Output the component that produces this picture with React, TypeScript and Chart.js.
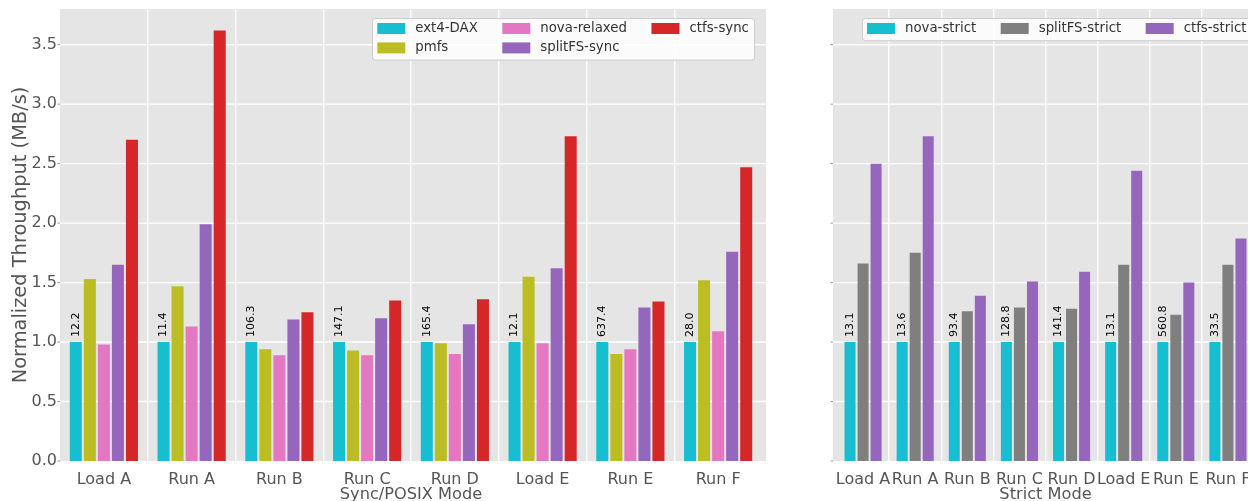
import { useEffect, useRef } from 'react';
import { Chart, registerables } from 'chart.js';

Chart.register(...registerables);

const FONT = "'DejaVu Sans', 'Liberation Sans', sans-serif";
Chart.defaults.font.family = FONT;

// YCSB workloads on the x axis of both panels
const CATEGORIES = ['Load A', 'Run A', 'Run B', 'Run C', 'Run D', 'Load E', 'Run E', 'Run F'];

// Sync/POSIX mode: ext4-DAX is the baseline, its absolute throughput (MB/s) is printed on its bar
const EXT4_DAX_MBPS = [12.2, 11.4, 106.3, 147.1, 165.4, 12.1, 637.4, 28.0];
const PMFS = [1.53, 1.47, 0.94, 0.93, 0.99, 1.55, 0.90, 1.52];
const NOVA_RELAXED = [0.98, 1.13, 0.89, 0.89, 0.90, 0.99, 0.94, 1.09];
const SPLITFS_SYNC = [1.65, 1.99, 1.19, 1.20, 1.15, 1.62, 1.29, 1.76];
const CTFS_SYNC = [2.70, 3.62, 1.25, 1.35, 1.36, 2.73, 1.34, 2.47];

// Strict mode: nova-strict is the baseline
const NOVA_STRICT_MBPS = [13.1, 13.6, 93.4, 128.8, 141.4, 13.1, 560.8, 33.5];
const SPLITFS_STRICT = [1.66, 1.75, 1.26, 1.29, 1.28, 1.65, 1.23, 1.65];
const CTFS_STRICT = [2.50, 2.73, 1.39, 1.51, 1.59, 2.44, 1.50, 1.87];

const Y_TICKS = [0, 0.5, 1.0, 1.5, 2.0, 2.5, 3.0, 3.5];
const Y_MAX = 3.8;

const C = {
  cyan: '#17becf',
  olive: '#bcbd22',
  pink: '#e377c2',
  purple: '#9467bd',
  red: '#d62728',
  gray: '#7f7f7f',
};

const normalize = (raw: number[]) => raw.map((v, i) => v / raw[i]);

type LegendItem = { label: string; color: string };

// Fills the panel background, draws horizontal grid and y tick marks
function panelBackground(extLeft: number, extRight: number) {
  return {
    id: 'panelBackground',
    beforeDraw(chart: any) {
      const { ctx, chartArea: a } = chart;
      const y = chart.scales.y;
      const l = a.left - extLeft;
      const r = a.right + extRight;
      ctx.save();
      ctx.fillStyle = '#E5E5E5';
      ctx.fillRect(l, a.top, r - l, a.bottom - a.top);
      ctx.strokeStyle = '#ffffff';
      ctx.lineWidth = 1.4;
      for (const v of Y_TICKS) {
        const py = y.getPixelForValue(v);
        if (py >= a.bottom - 0.5 || py <= a.top + 0.5) continue;
        ctx.beginPath();
        ctx.moveTo(l, py);
        ctx.lineTo(r, py);
        ctx.stroke();
      }
      ctx.strokeStyle = '#999999';
      ctx.lineWidth = 1;
      for (const v of Y_TICKS) {
        const py = y.getPixelForValue(v);
        ctx.beginPath();
        ctx.moveTo(l - 2.5, py);
        ctx.lineTo(l, py);
        ctx.stroke();
      }
      ctx.restore();
    },
  };
}

// Vertical absolute-throughput labels above the baseline bars
function baselineLabels(values: number[]) {
  return {
    id: 'baselineLabels',
    afterDatasetsDraw(chart: any) {
      const { ctx } = chart;
      const meta = chart.getDatasetMeta(0);
      ctx.save();
      ctx.font = `11px ${FONT}`;
      ctx.fillStyle = '#000000';
      ctx.textAlign = 'left';
      ctx.textBaseline = 'middle';
      meta.data.forEach((bar: any, i: number) => {
        ctx.save();
        ctx.translate(bar.x, bar.y - 5);
        ctx.rotate(-Math.PI / 2);
        ctx.fillText(values[i].toFixed(1), 0, 0);
        ctx.restore();
      });
      ctx.restore();
    },
  };
}

// Column-major boxed legend
function boxedLegend(columns: LegendItem[][], dx: number, dy: number) {
  return {
    id: 'boxedLegend',
    afterDraw(chart: any) {
      const { ctx, chartArea: a } = chart;
      const fontSize = 13.3;
      const swW = 28;
      const swH = 11;
      const swGap = 10;
      const colGap = 24.5;
      const padL = 5;
      const padR = 5.5;
      const rowPitch = 19.4;
      const firstRow = 10.2;
      const padB = 12;
      ctx.save();
      ctx.font = `${fontSize}px ${FONT}`;
      const colWidths = columns.map(
        (col) => swW + swGap + Math.max(...col.map((it) => ctx.measureText(it.label).width))
      );
      const rows = Math.max(...columns.map((c) => c.length));
      const x0 = a.left + dx;
      const y0 = a.top + dy;
      const w = padL + colWidths.reduce((s, v) => s + v, 0) + colGap * (columns.length - 1) + padR;
      const h = firstRow + rowPitch * (rows - 1) + padB;
      ctx.beginPath();
      ctx.roundRect(Math.round(x0) + 0.5, Math.round(y0) + 0.5, w, h, 3);
      ctx.fillStyle = 'rgba(255,255,255,0.85)';
      ctx.fill();
      ctx.strokeStyle = '#cccccc';
      ctx.lineWidth = 1;
      ctx.stroke();
      let cx = x0 + padL;
      columns.forEach((col, ci) => {
        col.forEach((it, ri) => {
          const cy = y0 + firstRow + ri * rowPitch;
          ctx.fillStyle = it.color;
          ctx.fillRect(cx, cy - swH / 2, swW, swH);
          ctx.fillStyle = '#333333';
          ctx.textAlign = 'left';
          ctx.textBaseline = 'middle';
          ctx.fillText(it.label, cx + swW + swGap, cy);
        });
        cx += colWidths[ci] + colGap;
      });
      ctx.restore();
    },
  };
}

function baseOptions(opts: {
  xTitle: string;
  yWidth: number;
  showYLabels: boolean;
  padRight: number;
}) {
  return {
    responsive: false,
    animation: false as const,
    devicePixelRatio: 1,
    layout: { padding: { top: 9, right: opts.padRight, bottom: 0, left: 0 } },
    plugins: { legend: { display: false }, tooltip: { enabled: false } },
    scales: {
      x: {
        type: 'category' as const,
        offset: true,
        grid: {
          offset: true,
          drawTicks: false,
          tickLength: 0,
          lineWidth: 1.4,
          color: (c: any) => (c.type === 'tick' && c.index > 0 ? '#ffffff' : 'rgba(0,0,0,0)'),
        },
        border: { display: false },
        ticks: {
          font: { size: 16, family: FONT },
          color: '#555555',
          padding: 9,
          autoSkip: false,
          maxRotation: 0,
          minRotation: 0,
        },
        title: {
          display: true,
          text: opts.xTitle,
          font: { size: 16.2, family: FONT },
          color: '#555555',
          padding: { top: 0, bottom: 1.2 },
        },
        afterFit: (s: any) => {
          s.height = 45;
          s.paddingLeft = 0;
          s.paddingRight = 0;
        },
      },
      y: {
        min: 0,
        max: Y_MAX,
        afterBuildTicks: (s: any) => {
          s.ticks = Y_TICKS.map((v) => ({ value: v }));
        },
        grid: { display: false, drawTicks: false, tickLength: 0 },
        border: { display: false },
        ticks: {
          font: { size: 16, family: FONT },
          color: '#555555',
          padding: 3,
          callback: (v: any) => (opts.showYLabels ? Number(v).toFixed(1) : ''),
        },
        title: {
          display: opts.showYLabels,
          text: 'Normalized Throughput (MB/s)',
          font: { size: 19.4, family: FONT },
          color: '#555555',
          padding: { top: 9.5, bottom: 0 },
        },
        afterFit: (s: any) => {
          s.width = opts.yWidth;
          s.paddingTop = 0;
          s.paddingBottom = 0;
        },
      },
    },
  };
}

function SyncPanel() {
  const ref = useRef<HTMLCanvasElement>(null);
  useEffect(() => {
    if (!ref.current) return;
    const chart = new Chart(ref.current, {
      type: 'bar',
      data: {
        labels: CATEGORIES,
        datasets: [
          { label: 'ext4-DAX', data: normalize(EXT4_DAX_MBPS), backgroundColor: C.cyan },
          { label: 'pmfs', data: PMFS, backgroundColor: C.olive },
          { label: 'nova-relaxed', data: NOVA_RELAXED, backgroundColor: C.pink },
          { label: 'splitFS-sync', data: SPLITFS_SYNC, backgroundColor: C.purple },
          { label: 'ctfs-sync', data: CTFS_SYNC, backgroundColor: C.red },
        ].map((d) => ({ ...d, categoryPercentage: 0.8, barPercentage: 0.857 })),
      },
      options: baseOptions({ xTitle: 'Sync/POSIX Mode', yWidth: 60, showYLabels: true, padRight: 18 }) as any,
      plugins: [
        panelBackground(0, 4),
        baselineLabels(EXT4_DAX_MBPS),
        boxedLegend(
          [
            [
              { label: 'ext4-DAX', color: C.cyan },
              { label: 'pmfs', color: C.olive },
            ],
            [
              { label: 'nova-relaxed', color: C.pink },
              { label: 'splitFS-sync', color: C.purple },
            ],
            [{ label: 'ctfs-sync', color: C.red }],
          ],
          312.3,
          9.3
        ),
      ],
    });
    return () => chart.destroy();
  }, []);
  return (
    <canvas
      ref={ref}
      width={780}
      height={506}
      style={{ position: 'absolute', left: 0, top: 0, width: 780, height: 506, display: 'block' }}
    />
  );
}

function StrictPanel() {
  const ref = useRef<HTMLCanvasElement>(null);
  useEffect(() => {
    if (!ref.current) return;
    const chart = new Chart(ref.current, {
      type: 'bar',
      data: {
        labels: CATEGORIES,
        datasets: [
          { label: 'nova-strict', data: normalize(NOVA_STRICT_MBPS), backgroundColor: C.cyan },
          { label: 'splitFS-strict', data: SPLITFS_STRICT, backgroundColor: C.gray },
          { label: 'ctfs-strict', data: CTFS_STRICT, backgroundColor: C.purple },
        ].map((d) => ({ ...d, categoryPercentage: 0.75, barPercentage: 0.846 })),
      },
      options: baseOptions({ xTitle: 'Strict Mode', yWidth: 57, showYLabels: false, padRight: 0 }) as any,
      plugins: [
        panelBackground(4, 4),
        baselineLabels(NOVA_STRICT_MBPS),
        boxedLegend(
          [
            [{ label: 'nova-strict', color: C.cyan }],
            [{ label: 'splitFS-strict', color: C.gray }],
            [{ label: 'ctfs-strict', color: C.purple }],
          ],
          25,
          9.3
        ),
      ],
    });
    return () => chart.destroy();
  }, []);
  return (
    <canvas
      ref={ref}
      width={474}
      height={506}
      style={{ position: 'absolute', left: 780, top: 0, width: 474, height: 506, display: 'block' }}
    />
  );
}

export default function App() {
  return (
    <div
      style={{
        position: 'fixed',
        left: 0,
        top: 0,
        width: 1248,
        height: 501,
        overflow: 'hidden',
        background: '#ffffff',
      }}
    >
      <SyncPanel />
      <StrictPanel />
    </div>
  );
}
